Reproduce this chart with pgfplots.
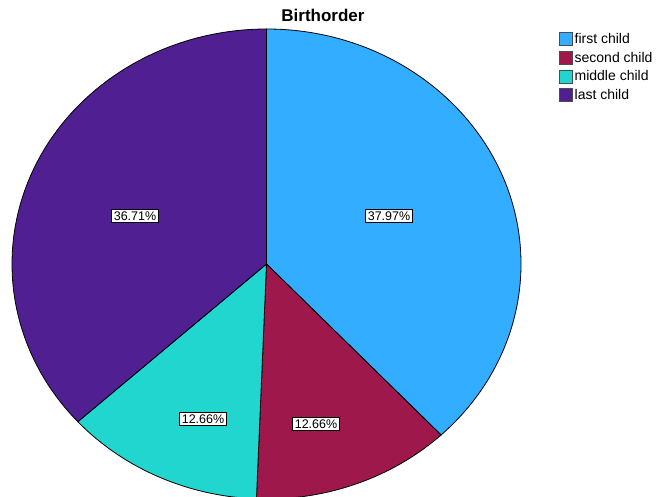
\documentclass[border=0pt]{standalone}
\usepackage{pgfplots}
\usepackage{pgfplotstable}
\pgfplotsset{compat=1.18}
\usepackage{fontspec}
\setmainfont{Liberation Sans}

\definecolor{slice0}{RGB}{51,173,255}
\definecolor{slice1}{RGB}{158,24,76}
\definecolor{slice2}{RGB}{34,214,208}
\definecolor{slice3}{RGB}{80,31,145}

% share in percent, label position in picture units
\pgfplotstableread{
share lx  ly
37.97 389 281
12.66 316 73
12.66 203 78
36.71 135 281
}\birthorder

\begin{document}
\begin{tikzpicture}
\clip (0,0) rectangle (658pt,497pt);
\begin{axis}[
    width=658pt, height=497pt, scale only axis,
    xmin=0, xmax=658, ymin=0, ymax=497,
    hide axis,
    legend style={at={(0.849,0.937)}, anchor=north west, draw=none, fill=none,
        font=\fontsize{14}{15}\selectfont, row sep=3pt,
        inner sep=0pt, cells={anchor=west}},
    legend image code/.code={\draw[#1] (0pt,-6.5pt) rectangle (13pt,6.5pt);},
]
\def\startang{90}
\pgfplotsforeachungrouped \i in {0,...,3}{
    \pgfplotstablegetelem{\i}{share}\of\birthorder
    \let\share\pgfplotsretval
    \pgfmathsetmacro\endang{\startang-3.6*\share}
    \edef\doit{%
        \noexpand\filldraw[fill=slice\i, draw=black, line width=0.8pt]
            (axis cs:266.5,233) -- ++(\startang:254.5pt and 235pt)
            arc[start angle=\startang, end angle=\endang,
                x radius=254.5pt, y radius=235pt] -- cycle;
    }\doit
    \global\let\startang\endang
}
\pgfplotsforeachungrouped \i in {0,...,3}{
    \pgfplotstablegetelem{\i}{share}\of\birthorder
    \let\share\pgfplotsretval
    \pgfplotstablegetelem{\i}{lx}\of\birthorder
    \let\lx\pgfplotsretval
    \pgfplotstablegetelem{\i}{ly}\of\birthorder
    \let\ly\pgfplotsretval
    \edef\doit{%
        \noexpand\node[fill=white, draw=black, line width=0.9pt, inner sep=2pt,
            font=\noexpand\fontsize{12.5}{14}\noexpand\selectfont]
            at (axis cs:\lx,\ly)
            {\noexpand\pgfmathprintnumber[fixed, fixed zerofill, precision=2,
                assume math mode=true]{\share}\noexpand\%};
    }\doit
}
\node[font=\fontsize{17}{19}\selectfont\bfseries] at (axis cs:323,482) {Birthorder};

\addlegendimage{fill=slice0, draw=black!70, line width=0.8pt}
\addlegendentry{first child}
\addlegendimage{fill=slice1, draw=black!70, line width=0.8pt}
\addlegendentry{second child}
\addlegendimage{fill=slice2, draw=black!70, line width=0.8pt}
\addlegendentry{middle child}
\addlegendimage{fill=slice3, draw=black!70, line width=0.8pt}
\addlegendentry{last child}
\end{axis}
\end{tikzpicture}
\end{document}
